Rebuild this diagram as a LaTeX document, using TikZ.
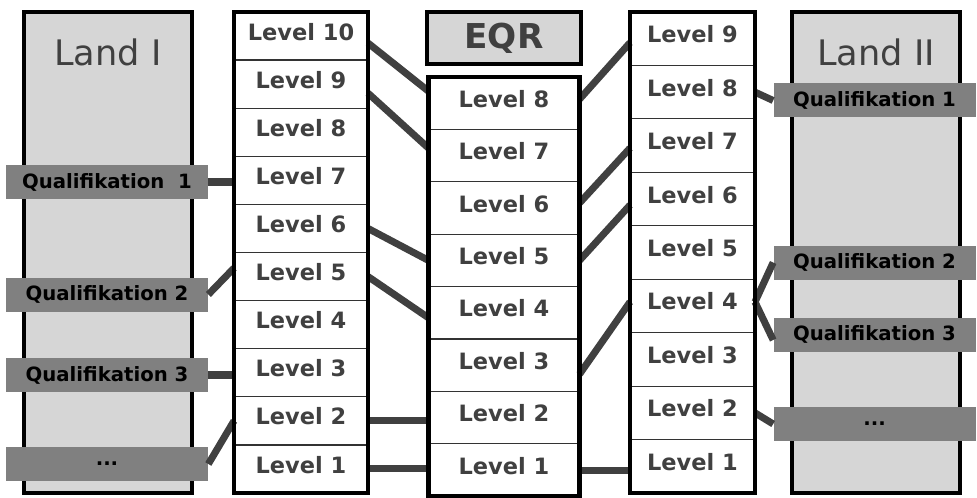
\documentclass[tikz,border=0pt]{standalone}
\usepackage{fontspec}
\newfontfamily\dejavu{DejaVu Sans}
\usetikzlibrary{positioning}
\definecolor{landgray}{HTML}{D6D6D6}
\definecolor{textgray}{HTML}{404040}
\definecolor{conngray}{HTML}{404040}
\definecolor{qualgray}{HTML}{808080}
\newcommand{\levelfont}{\dejavu\bfseries\fontsize{12.8}{15}\selectfont}
\newcommand{\qualfont}{\dejavu\bfseries\fontsize{11.2}{13}\selectfont}
\newcommand{\landfont}{\dejavu\fontsize{20}{24}\selectfont}
\newcommand{\eqrfont}{\dejavu\bfseries\fontsize{19.5}{23}\selectfont}
\tikzstyle{land}=[rectangle,line width=2.3pt,draw=black,fill=landgray,
minimum width=3.36cm,minimum height=9.62cm,inner sep=0pt]
\tikzstyle{qual}=[rectangle,fill=qualgray,minimum width=4.04cm,
minimum height=0.68cm,inner sep=0pt,font=\qualfont]
\tikzstyle{levelcell}=[rectangle,draw=black!80,line width=0.7pt,fill=white,
inner sep=0pt,outer sep=0pt,text=textgray,font=\levelfont,text depth=0.18cm]
\tikzstyle{lcell}=[levelcell,minimum width=2.68cm,minimum height=0.962cm]
\tikzstyle{ecell}=[levelcell,minimum width=3.02cm,minimum height=1.048cm]
\tikzstyle{rcell}=[levelcell,minimum width=2.5cm,minimum height=1.069cm]
\tikzstyle{eqrhead}=[rectangle,line width=2.3pt,draw=black,fill=landgray,
minimum width=3.08cm,minimum height=1.04cm,inner sep=0pt,text=textgray,font=\eqrfont]
\tikzstyle{conn}=[line width=4pt,draw=conngray]
\tikzstyle{colframe}=[line width=2.3pt,draw=black]

\begin{document}
\begin{tikzpicture}
            \useasboundingbox (0,0) rectangle (19.54,-9.96);

            % LAND BOXES

            \node[land,label={[font=\landfont,text=textgray,anchor=north,yshift=-0.46cm]north:Land I}] (land1) at (2.16,-5.05) {};
            \node[land,label={[font=\landfont,text=textgray,anchor=north,yshift=-0.46cm]north:Land II}] (land2) at (17.52,-5.05) {};

            \node[qual] (lq1) at (2.14,-3.64) {Qualifikation\ \ 1};
            \node[qual] (lq2) at (2.14,-5.89) {Qualifikation 2};
            \node[qual] (lq3) at (2.14,-7.50) {Qualifikation 3};
            \node[qual] (lq4) at (2.14,-9.28) {...};

            \node[qual] (rq1) at (17.49,-2.01) {Qualifikation 1};
            \node[qual] (rq2) at (17.49,-5.25) {Qualifikation 2};
            \node[qual] (rq3) at (17.49,-6.69) {Qualifikation 3};
            \node[qual] (rq4) at (17.49,-8.48) {...};

            % LAND I LEVELS

            \node[lcell] (a10) at (6.02,-0.721) {Level 10};
            \node[lcell,below=0pt of a10] (a9) {Level 9};
            \node[lcell,below=0pt of a9] (a8) {Level 8};
            \node[lcell,below=0pt of a8] (a7) {Level 7};
            \node[lcell,below=0pt of a7] (a6) {Level 6};
            \node[lcell,below=0pt of a6] (a5) {Level 5};
            \node[lcell,below=0pt of a5] (a4) {Level 4};
            \node[lcell,below=0pt of a4] (a3) {Level 3};
            \node[lcell,below=0pt of a3] (a2) {Level 2};
            \node[lcell,below=0pt of a2] (a1) {Level 1};

            % EQR LEVELS

            \node[eqrhead] (eqr) at (10.08,-0.76) {EQR};
            \node[ecell,below=0.22cm of eqr] (e8) {Level 8};
            \node[ecell,below=0pt of e8] (e7) {Level 7};
            \node[ecell,below=0pt of e7] (e6) {Level 6};
            \node[ecell,below=0pt of e6] (e5) {Level 5};
            \node[ecell,below=0pt of e5] (e4) {Level 4};
            \node[ecell,below=0pt of e4] (e3) {Level 3};
            \node[ecell,below=0pt of e3] (e2) {Level 2};
            \node[ecell,below=0pt of e2] (e1) {Level 1};

            % LAND II LEVELS

            \node[rcell] (b9) at (13.85,-0.774) {Level 9};
            \node[rcell,below=0pt of b9] (b8) {Level 8};
            \node[rcell,below=0pt of b8] (b7) {Level 7};
            \node[rcell,below=0pt of b7] (b6) {Level 6};
            \node[rcell,below=0pt of b6] (b5) {Level 5};
            \node[rcell,below=0pt of b5] (b4) {Level 4};
            \node[rcell,below=0pt of b4] (b3) {Level 3};
            \node[rcell,below=0pt of b3] (b2) {Level 2};
            \node[rcell,below=0pt of b2] (b1) {Level 1};

            % Qualifications of Land I

            \draw[conn] (lq1.east) -- (lq1.east -| a7.west);
            \draw[conn] (lq2.east) -- ([yshift=0.17cm]a5.west);
            \draw[conn] (lq3.east) -- (lq3.east -| a3.west);
            \draw[conn] (lq4.east) -- (a2.west);

            % Land I to EQR

            \draw[conn] ([yshift=-0.14cm]a10.east) -- ([yshift=0.24cm]e8.west);
            \draw[conn] ([yshift=-0.18cm]a9.east) -- ([yshift=0.15cm]e7.west);
            \draw[conn] (a6.east) -- (e5.west);
            \draw[conn] (a5.east) -- ([yshift=-0.1cm]e4.west);
            \draw[conn] (a2.east) -- (a2.east -| e2.west);
            \draw[conn] (a1.east) -- (a1.east -| e1.west);

            % EQR to Land II

            \draw[conn] ([yshift=0.08cm]e8.east) -- ([yshift=-0.08cm]b9.west);
            \draw[conn] ([yshift=0.1cm]e6.east) -- ([yshift=-0.05cm]b7.west);
            \draw[conn] (e5.east) -- ([yshift=-0.12cm]b6.west);
            \draw[conn] ([yshift=-0.18cm]e3.east) -- ([yshift=0.08cm]b4.west);
            \draw[conn] (e1.east) -- (e1.east -| b1.west);

            % Qualifications of Land II

            \draw[conn] (b8.east) -- (rq1.west);
            \draw[conn] ([yshift=0.08cm]b4.east) -- (rq2.west);
            \draw[conn] ([yshift=0.08cm]b4.east) -- ([yshift=-0.11cm]rq3.west);
            \draw[conn] (b2.east) -- (rq4.west);

            % column frames

            \draw[colframe] (a10.north west) rectangle (a1.south east);
            \draw[colframe] (e8.north west) rectangle (e1.south east);
            \draw[colframe] (b9.north west) rectangle (b1.south east);

\end{tikzpicture}
\end{document}
